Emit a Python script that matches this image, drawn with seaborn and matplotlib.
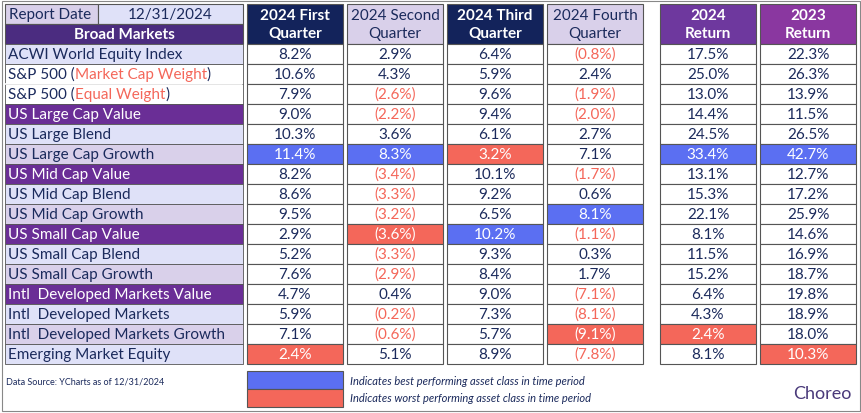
import matplotlib
matplotlib.use("Agg")
import matplotlib.pyplot as plt
import seaborn as sns
from matplotlib.patches import Rectangle

sns.set_theme(style="white")
plt.rcParams["font.family"] = ["Lato", "DejaVu Sans"]

# data
rows = ["ACWI World Equity Index", "S&P 500 (Market Cap Weight)", "S&P 500 (Equal Weight)",
        "US Large Cap Value", "US Large Blend", "US Large Cap Growth",
        "US Mid Cap Value", "US Mid Cap Blend", "US Mid Cap Growth",
        "US Small Cap Value", "US Small Cap Blend", "US Small Cap Growth",
        "Intl  Developed Markets Value", "Intl  Developed Markets", "Intl  Developed Markets Growth",
        "Emerging Market Equity"]
col_titles = ["2024 First\nQuarter", "2024 Second\nQuarter", "2024 Third\nQuarter",
              "2024 Fourth\nQuarter", "2024\nReturn", "2023\nReturn"]
q1 = [8.2, 10.6, 7.9, 9.0, 10.3, 11.4, 8.2, 8.6, 9.5, 2.9, 5.2, 7.6, 4.7, 5.9, 7.1, 2.4]
q2 = [2.9, 4.3, -2.6, -2.2, 3.6, 8.3, -3.4, -3.3, -3.2, -3.6, -3.3, -2.9, 0.4, -0.2, -0.6, 5.1]
q3 = [6.4, 5.9, 9.6, 9.4, 6.1, 3.2, 10.1, 9.2, 6.5, 10.2, 9.3, 8.4, 9.0, 7.3, 5.7, 8.9]
q4 = [-0.8, 2.4, -1.9, -2.0, 2.7, 7.1, -1.7, 0.6, 8.1, -1.1, 0.3, 1.7, -7.1, -8.1, -9.1, -7.8]
y2024 = [17.5, 25.0, 13.0, 14.4, 24.5, 33.4, 13.1, 15.3, 22.1, 8.1, 11.5, 15.2, 6.4, 4.3, 2.4, 8.1]
y2023 = [22.3, 26.3, 13.9, 11.5, 26.5, 42.7, 12.7, 17.2, 25.9, 14.6, 16.9, 18.7, 19.8, 18.9, 18.0, 10.3]
columns = [q1, q2, q3, q4, y2024, y2023]
best_idx = [5, 5, 9, 8, 5, 5]
worst_idx = [15, 9, 5, 14, 14, 15]

NAVY = "#1b2a5c"
RED = "#f4675a"
BLUE = "#5b6ff2"
row_bg = ["#dfe1f8", "white", "white",
          "#6a2e96", "#dfe1f8", "#d9d0ea",
          "#6a2e96", "#dfe1f8", "#d9d0ea",
          "#6a2e96", "#dfe1f8", "#d9d0ea",
          "#6a2e96", "#dfe1f8", "#d9d0ea", "#dfe1f8"]
head_bg = ["#13235b", "#d9d0ea", "#13235b", "#d9d0ea", "#6e389e", "#8a37a0"]
head_fg = ["white", NAVY, "white", NAVY, "white", "white"]
col_x = [247, 347, 447, 547, 660, 760]
col_w = 96
top, rh = 45, 20
FS = 11

fig = plt.figure(figsize=(8.62, 4.14), dpi=100)
ax = fig.add_axes([0, 0, 1, 1])
ax.set_xlim(0, 862)
ax.set_ylim(414, 0)
ax.axis("off")
ec = "#555555"

def box(x, y, w, h, fc, lw=0.8):
    ax.add_patch(Rectangle((x, y), w, h, facecolor=fc, edgecolor=ec, lw=lw))

# report date
box(5, 5, 93, 20, "#d9d0ea")
ax.text(9, 15, "Report Date", color=NAVY, fontsize=FS, va="center")
box(98, 5, 145, 20, "#dfe1f8")
ax.text(170, 15, "12/31/2024", color=NAVY, fontsize=FS, va="center", ha="center")
box(5, 25, 238, 20, "#4b2c80")
ax.text(124, 35, "Broad Markets", color="white", fontsize=FS, va="center", ha="center", weight="bold")

# row labels
for i, name in enumerate(rows):
    y = top + i * rh
    fc = row_bg[i]
    box(5, y, 238, rh, fc, lw=0.6)
    fg = "white" if fc == "#6a2e96" else NAVY
    if name.startswith("S&P 500 ("):
        inner = name[len("S&P 500 ("):-1]
        t = ax.text(8, y + 10, "S&P 500 (", color=NAVY, fontsize=FS, va="center")
        t2 = ax.annotate(inner, xycoords=t, xy=(1, 0), va="bottom", color=RED, fontsize=FS)
        ax.annotate(")", xycoords=t2, xy=(1, 0), va="bottom", color=NAVY, fontsize=FS)
    else:
        ax.text(8, y + 10, name, color=fg, fontsize=FS, va="center")
ax.plot([5.5, 242.5], [top + 2 * rh, top + 2 * rh], color="white", lw=1.2)

# value columns
for c, vals in enumerate(columns):
    x = col_x[c]
    box(x, 5, col_w, 40, head_bg[c])
    ax.text(x + col_w / 2, 25, col_titles[c], color=head_fg[c], fontsize=FS,
            ha="center", va="center", linespacing=1.4,
            weight="bold" if head_fg[c] == "white" else "normal")
    for i, v in enumerate(vals):
        y = top + i * rh
        fc, fg = "white", (RED if v < 0 else NAVY)
        if i == best_idx[c]:
            fc, fg = BLUE, "white"
        elif i == worst_idx[c]:
            fc, fg = RED, "white"
        box(x, y, col_w, rh, fc)
        s = f"({abs(v):.1f}%)" if v < 0 else f"{v:.1f}%"
        ax.text(x + col_w / 2, y + 10, s, color=fg, fontsize=FS, ha="center", va="center")

# footer
ax.text(6, 382, "Data Source: YCharts as of 12/31/2024", color=NAVY, fontsize=6.5, va="center")
box(247, 372, 96, 18, BLUE)
box(247, 390, 96, 18, RED)
ax.text(350, 382, "Indicates best performing asset class in time period", color=NAVY,
        fontsize=8, style="italic", va="center")
ax.text(350, 399, "Indicates worst performing asset class in time period", color=NAVY,
        fontsize=8, style="italic", va="center")
ax.text(822, 394, "Choreo", color="#4a3a7a", fontsize=13, ha="center", va="center")
ax.add_patch(Rectangle((2, 2), 858, 410, fill=False, edgecolor="#888888", lw=0.8))

fig.savefig("out.png", dpi=100)
